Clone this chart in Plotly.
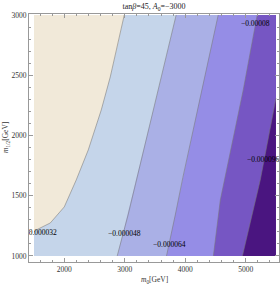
import plotly.graph_objects as go

# data range
m0_range = [1500, 5500]
m12_range = [1000, 3000]

# contour levels and boundaries (m0, m12), from top to bottom
levels = ["−0.000032", "−0.000048", "−0.000064", "−0.00008", "−0.000096"]
b1_m0 = [2992, 2893, 2760, 2612, 2463, 2397, 2198, 2000, 1769, 1537, 1500]
b1_m12 = [3000, 2768, 2485, 2212, 1979, 1880, 1631, 1407, 1274, 1216, 1199]
b2_m0 = [3850, 3515, 3195, 3055, 2875]
b2_m12 = [3000, 2300, 1650, 1340, 1000]
b3_m0 = [4545, 4240, 3960, 3835, 3690]
b3_m12 = [3000, 2300, 1650, 1340, 1000]
b4_m0 = [5190, 4960, 4580, 4465]
b4_m12 = [3000, 2380, 1465, 1000]
b5_m0 = [5500, 5240, 4945]
b5_m12 = [2310, 1630, 1000]

# label positions
label_m0 = [1610, 2992, 3736, 5157, 5289]
label_m12 = [1191, 1183, 1091, 2925, 1797]

colors = ["#F1E9D9", "#C5D5EA", "#AAB0E6", "#958DE6", "#7656C3", "#4A1580"]

x0, x1 = m0_range
y0, y1 = m12_range

fig = go.Figure()

def poly(xs, ys, color):
    fig.add_trace(go.Scatter(x=xs, y=ys, mode="lines", fill="toself",
                             fillcolor=color, line=dict(width=0),
                             hoverinfo="skip", showlegend=False))

# darkest background
poly([x0, x1, x1, x0, x0], [y0, y0, y1, y1, y0], colors[5])
# left of b5
poly([x0, x1] + b5_m0 + [x0, x0], [y1, y1] + b5_m12 + [y0, y1], colors[4])
# left of b4
poly([x0] + b4_m0 + [x0, x0], [y1] + b4_m12 + [y0, y1], colors[3])
# left of b3
poly([x0] + b3_m0 + [x0, x0], [y1] + b3_m12 + [y0, y1], colors[2])
# left of b2
poly([x0] + b2_m0 + [x0, x0], [y1] + b2_m12 + [y0, y1], colors[1])
# left of b1
poly([x0] + b1_m0 + [x0], [y1] + b1_m12 + [y1], colors[0])

for bx, by in [(b1_m0, b1_m12), (b2_m0, b2_m12), (b3_m0, b3_m12),
               (b4_m0, b4_m12), (b5_m0, b5_m12)]:
    fig.add_trace(go.Scatter(x=bx, y=by, mode="lines",
                             line=dict(color="rgba(120,120,120,0.7)", width=0.8),
                             hoverinfo="skip", showlegend=False))

fig.add_trace(go.Scatter(x=label_m0, y=label_m12, mode="text", text=levels,
                         textfont=dict(family="Liberation Serif", size=7.5, color="black"),
                         cliponaxis=True, hoverinfo="skip", showlegend=False))

serif = "Liberation Serif"
axis_common = dict(showgrid=False, zeroline=False, showline=True, mirror="allticks",
                   linecolor="#999999", linewidth=1, ticks="inside", ticklen=4,
                   tickcolor="#999999", tickwidth=0.8, automargin=False,
                   tickfont=dict(family=serif, size=7.5, color="#333333"))

fig.update_xaxes(range=[1417, 5550], tickvals=[2000, 3000, 4000, 5000],
                 minor=dict(ticks="inside", ticklen=2, dtick=200, tick0=0,
                            tickcolor="#999999", tickwidth=0.6),
                 **axis_common)
fig.update_yaxes(range=[950, 3008], tickvals=[1000, 1500, 2000, 2500, 3000],
                 minor=dict(ticks="inside", ticklen=2, dtick=100, tick0=0,
                            tickcolor="#999999", tickwidth=0.6),
                 **axis_common)

fig.update_layout(
    width=280, height=285,
    margin=dict(l=29, r=1, t=14, b=23, autoexpand=False),
    paper_bgcolor="white", plot_bgcolor="white",
    title=dict(text="tan<i>β</i>=45, <i>A</i><sub>0</sub>=−3000",
               font=dict(family=serif, size=8, color="#222222"),
               x=0.55, xanchor="center", y=0.978, yanchor="middle", yref="container"),
    annotations=[
        dict(text="<i>m</i><sub>0</sub>[GeV]", x=0.5, y=-0.074, xref="paper", yref="paper",
             xanchor="center", yanchor="middle", showarrow=False,
             font=dict(family=serif, size=7.5, color="#333333")),
        dict(text="<i>m</i><sub>1/2</sub>[GeV]", x=-0.092, y=0.5, xref="paper", yref="paper",
             xanchor="center", yanchor="middle", showarrow=False, textangle=-90,
             font=dict(family=serif, size=7.5, color="#333333")),
    ],
)

fig.write_html("out.html", config={"displayModeBar": False},
               post_script="document.body.style.margin='0';document.body.style.overflow='hidden';")
